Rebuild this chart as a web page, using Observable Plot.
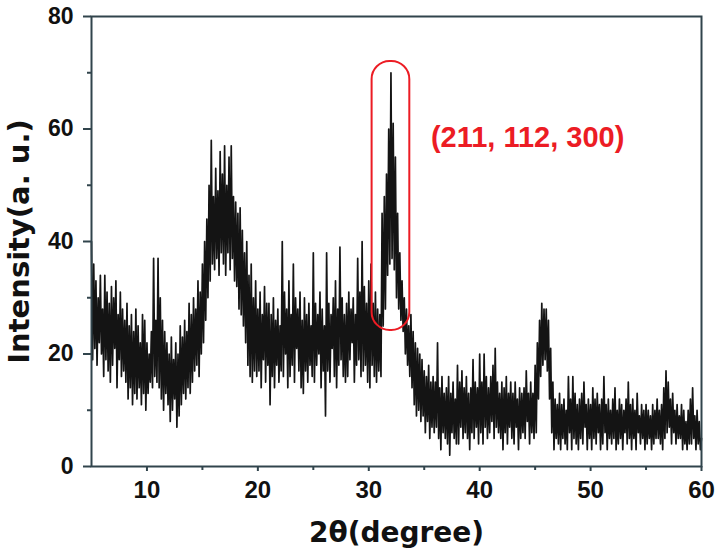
<!DOCTYPE html>
<html>
<head>
<meta charset="utf-8">
<script src="https://cdn.jsdelivr.net/npm/d3@7"></script>
<script src="https://cdn.jsdelivr.net/npm/@observablehq/plot@0.6"></script>
<style>
  html, body { margin: 0; padding: 0; background: #fff; }
  #chart svg { display: block; }
</style>
</head>
<body>
<div id="chart"></div>
<script>
// 2θ sampling: 5° to 60° every 0.1°
const thetaStart = 5;
const thetaStep = 0.1;
// Intensity, one row per degree (10 samples per degree)
const intensity = [
  40, 19, 36, 21, 33, 18, 30, 22, 34, 20,   // 5
  28, 16, 34, 19, 31, 17, 29, 15, 32, 18,   // 6
  30, 21, 33, 14, 27, 19, 31, 16, 28, 17,   // 7
  26, 15, 29, 12, 25, 14, 27, 11, 24, 13,   // 8
  28, 12, 25, 14, 22, 11, 27, 13, 26, 10,   // 9
  22, 13, 20, 15, 24, 14, 37, 16, 26, 15,   // 10
  37, 14, 30, 12, 26, 10, 24, 13, 22, 11,   // 11
  20, 8, 23, 10, 19, 12, 22, 7, 20, 9,      // 12
  25, 11, 23, 13, 26, 12, 24, 14, 29, 13,   // 13
  27, 15, 30, 17, 28, 18, 33, 16, 31, 20,   // 14
  36, 22, 40, 26, 44, 30, 50, 33, 58, 36,   // 15
  48, 35, 53, 37, 49, 34, 56, 38, 52, 36,   // 16
  57, 34, 50, 38, 55, 35, 57, 37, 48, 33,   // 17
  47, 32, 45, 28, 46, 27, 42, 25, 38, 22,   // 18
  40, 18, 34, 16, 36, 15, 30, 17, 33, 16,   // 19
  28, 17, 31, 14, 27, 19, 32, 15, 29, 18,   // 20
  29, 11, 27, 16, 30, 14, 26, 18, 28, 15,   // 21
  25, 17, 40, 16, 31, 20, 28, 14, 33, 16,   // 22
  27, 18, 36, 15, 30, 21, 28, 17, 31, 14,   // 23
  26, 13, 30, 17, 27, 15, 29, 18, 25, 16,   // 24
  38, 15, 29, 18, 27, 20, 31, 14, 28, 17,   // 25
  25, 9, 38, 17, 29, 15, 27, 21, 30, 16,    // 26
  33, 14, 28, 18, 39, 19, 30, 16, 27, 15,   // 27
  29, 16, 31, 19, 28, 22, 30, 15, 27, 18,   // 28
  37, 19, 31, 16, 40, 17, 32, 18, 29, 15,   // 29
  33, 14, 36, 18, 29, 16, 31, 15, 28, 17,   // 30
  27, 16, 45, 25, 48, 28, 52, 34, 60, 36,   // 31
  70, 37, 61, 35, 55, 30, 45, 28, 38, 26,   // 32
  33, 24, 30, 20, 28, 18, 25, 16, 27, 14,   // 33
  24, 11, 22, 9, 21, 10, 20, 8, 19, 9,      // 34
  17, 6, 16, 8, 18, 5, 15, 7, 16, 6,        // 35
  15, 7, 22, 5, 14, 3, 16, 6, 13, 5,        // 36
  14, 4, 16, 2, 13, 6, 15, 5, 12, 4,        // 37
  18, 4, 15, 7, 17, 5, 14, 6, 16, 5,        // 38
  13, 3, 14, 6, 19, 5, 15, 7, 14, 4,        // 39
  20, 6, 15, 4, 20, 7, 16, 5, 14, 6,        // 40
  16, 8, 18, 5, 21, 7, 15, 6, 13, 5,        // 41
  15, 3, 14, 6, 16, 4, 13, 7, 15, 5,        // 42
  13, 4, 15, 7, 12, 3, 14, 5, 13, 6,        // 43
  14, 5, 17, 8, 13, 4, 15, 6, 13, 5,        // 44
  18, 6, 22, 12, 26, 16, 29, 18, 28, 19,    // 45
  28, 17, 26, 12, 21, 6, 15, 3, 12, 5,      // 46
  11, 4, 13, 3, 11, 5, 12, 4, 10, 3,        // 47
  16, 6, 12, 3, 16, 5, 13, 4, 11, 3,        // 48
  12, 5, 13, 4, 15, 7, 11, 3, 12, 5,        // 49
  11, 3, 14, 5, 12, 4, 13, 6, 11, 3,        // 50
  12, 4, 16, 6, 11, 3, 12, 5, 10, 4,        // 51
  12, 5, 14, 3, 10, 4, 12, 5, 11, 3,        // 52
  10, 6, 12, 4, 15, 5, 11, 3, 12, 5,        // 53
  10, 3, 13, 6, 9, 4, 11, 5, 10, 3,         // 54
  11, 4, 10, 5, 9, 3, 11, 4, 10, 5,         // 55
  12, 5, 10, 4, 11, 3, 14, 5, 17, 6,        // 56
  15, 7, 12, 4, 13, 6, 10, 4, 11, 5,        // 57
  9, 5, 11, 3, 10, 4, 8, 3, 10, 4,          // 58
  12, 4, 14, 5, 9, 3, 10, 4, 8, 3,          // 59
  5                                         // 60
];
const xTicks = [10, 20, 30, 40, 50, 60];
const xMinorTicks = [15, 25, 35, 45, 55];
const yTicks = [0, 20, 40, 60, 80];
const yMinorTicks = [10, 30, 50, 70];
const xLabel = "2θ(degree)";
const yLabel = "Intensity(a. u.)";
const peakLabel = "(211, 112, 300)";
// highlight box around the main peak (data coords)
const peakBox = [{x1: 30.3, x2: 33.7, y1: 24.2, y2: 72}];
const peakLabelPos = [{x: 35.6, y: 58.4, t: peakLabel}];

const data = intensity.map((v, i) => ({theta: thetaStart + i * thetaStep, I: v}));

const axisColor = "#31444c";
const font = "'Liberation Sans', Arial, Helvetica, sans-serif";
const titleFont = "'DejaVu Sans', 'Liberation Sans', Arial, sans-serif";

const chart = Plot.plot({
  width: 719,
  height: 559,
  marginLeft: 91,
  marginRight: 18,
  marginTop: 16,
  marginBottom: 93,
  style: {fontFamily: font, background: "#fff", color: "#111", fontWeight: "bold", fontSize: "23px"},
  x: {domain: [5, 60]},
  y: {domain: [0, 80]},
  marks: [
    Plot.line(data, {x: "theta", y: "I", stroke: "#141414", strokeWidth: 1.7}),
    Plot.rect(peakBox, {x1: "x1", x2: "x2", y1: "y1", y2: "y2", rx: 18, fill: "none", stroke: "#ec1c24", strokeWidth: 2}),
    Plot.text(peakLabelPos, {x: "x", y: "y", text: "t", textAnchor: "start", fill: "#ec1c24", fontSize: 29, fontWeight: "bold", fontFamily: font, letterSpacing: 0.4}),
    Plot.frame({stroke: axisColor, strokeWidth: 2}),
    Plot.axisX(xTicks, {tickSize: 5, tickPadding: 9, stroke: axisColor, strokeWidth: 2, fontSize: 24, fontWeight: "bold", fill: "#111", label: null}),
    Plot.axisX(xMinorTicks, {tickSize: 4, stroke: axisColor, strokeWidth: 2, text: null, label: null}),
    Plot.axisY(yTicks, {tickSize: 8, tickPadding: 10, stroke: axisColor, strokeWidth: 2, fontSize: 23, fontWeight: "bold", fill: "#111", label: null}),
    Plot.axisY(yMinorTicks, {tickSize: 4, stroke: axisColor, strokeWidth: 2, text: null, label: null}),
    Plot.text([xLabel], {frameAnchor: "bottom", dy: 67, lineAnchor: "middle", textAnchor: "middle", fontSize: 28, fontWeight: "bold", fill: "#111", fontFamily: titleFont}),
    Plot.text([yLabel], {frameAnchor: "left", dx: -72, rotate: -90, textAnchor: "middle", lineAnchor: "middle", fontSize: 29, fontWeight: "bold", fill: "#111", fontFamily: titleFont})
  ]
});
document.getElementById("chart").appendChild(chart);
</script>
</body>
</html>
